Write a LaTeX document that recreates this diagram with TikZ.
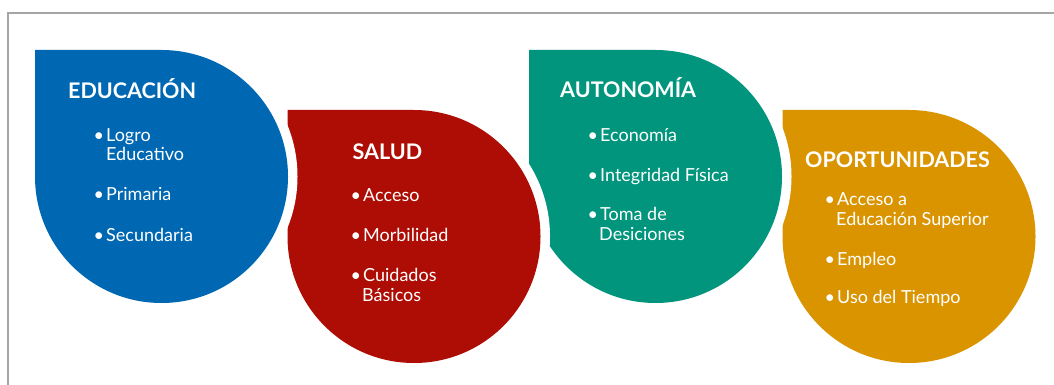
\documentclass[tikz,border=0pt]{standalone}
\usepackage{fontspec}
\setmainfont{Lato}
\definecolor{cblue}{RGB}{0,104,178}
\definecolor{cred}{RGB}{173,13,4}
\definecolor{cteal}{RGB}{0,149,124}
\definecolor{corange}{RGB}{217,148,0}
\definecolor{cframe}{RGB}{165,165,165}
\tikzset{
  drop/.style={fill=#1, preaction={draw=white, line width=19pt}},
  head/.style={anchor=base west, inner sep=0pt, text=white, font=\fontsize{21.5}{23}\selectfont\bfseries},
  item/.style={anchor=base west, inner sep=0pt, text=white, font=\fontsize{18}{20}\selectfont},
  bul/.style={anchor=base west, inner sep=0pt, text=white, font=\fontsize{18}{20}\selectfont},
}
\newcommand{\dropshape}[3]{% x, y(top, px down), colour
  \path[drop=#3] (#1,-#2) -- ++(126.5,0) arc[start angle=90, end angle=-180, radius=126.5] -- cycle;
}
\begin{document}
\begin{tikzpicture}[x=1pt,y=1pt]
\useasboundingbox (0,0) rectangle (1054,-385);
\fill[white] (0,0) rectangle (1054,-385);
\draw[cframe, line width=1.6pt] (7.8,-385) -- (7.8,-12.8) -- (1054,-12.8);
% shapes (bottom to top)
\dropshape{782.5}{110}{corange}
\dropshape{529}{50}{cteal}
\dropshape{287.5}{110}{cred}
\dropshape{35}{50}{cblue}
% EDUCACION
\node[head] (h1) at (68,-98.5) {EDUCACIÓN};
\node[bul] (b11) at (93.5,-141.7) {•};
\node[item] (t11) at (106,-141.7) {Logro};
\node[item] (t11b) at (106,-160.5) {Educativo};
\node[bul] (b12) at (93.5,-200) {•};
\node[item] (t12) at (106,-200) {Primaria};
\node[bul] (b13) at (93.5,-241) {•};
\node[item] (t13) at (106,-241) {Secundaria};
% SALUD
\node[head] (h2) at (352.5,-159) {SALUD};
\node[bul] (b21) at (350.5,-201.7) {•};
\node[item] (t21) at (363,-201.7) {Acceso};
\node[bul] (b22) at (350.5,-241.7) {•};
\node[item] (t22) at (363,-241.7) {Morbilidad};
\node[bul] (b23) at (350.5,-281.7) {•};
\node[item] (t23) at (363,-281.7) {Cuidados};
\node[item] (t23b) at (362,-301.5) {Básicos};
% AUTONOMIA
\node[head] (h3) at (560,-98) {AUTONOMÍA};
\node[bul] (b31) at (587.5,-141.7) {•};
\node[item] (t31) at (600,-141.7) {Economía};
\node[bul] (b32) at (587.5,-181.7) {•};
\node[item] (t32) at (600,-181.7) {Integridad Física};
\node[bul] (b33) at (587.5,-220.7) {•};
\node[item] (t33) at (600,-220.7) {Toma de};
\node[item] (t33b) at (599,-240.7) {Desiciones};
% OPORTUNIDADES
\node[head] (h4) at (805,-167.3) {OPORTUNIDADES};
\node[bul] (b41) at (824.5,-205) {•};
\node[item] (t41) at (837,-205) {Acceso a};
\node[item] (t41b) at (836,-225) {Educación Superior};
\node[bul] (b42) at (824.5,-265) {•};
\node[item] (t42) at (837,-265) {Empleo};
\node[bul] (b43) at (824.5,-303) {•};
\node[item] (t43) at (837,-303) {Uso del Tiempo};
\end{tikzpicture}
\end{document}
